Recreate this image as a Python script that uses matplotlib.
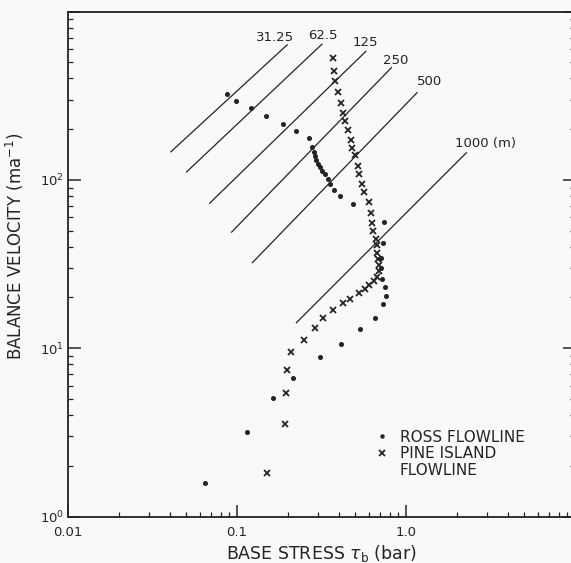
import matplotlib
matplotlib.use("Agg")
import matplotlib.pyplot as plt
from matplotlib.lines import Line2D
from matplotlib.ticker import LogLocator, FixedLocator, FixedFormatter, NullFormatter

# Ross flowline (dots): base stress (bar), balance velocity (m/a)
ross_tau = [0.0873, 0.0986, 0.1205, 0.148, 0.186, 0.2245, 0.268, 0.2767, 0.2845,
            0.2893, 0.2944, 0.3027, 0.311, 0.320, 0.332, 0.344, 0.3535, 0.3767,
            0.4055, 0.4875, 0.738, 0.731, 0.711, 0.716, 0.725, 0.748, 0.762,
            0.735, 0.656, 0.535, 0.412, 0.311, 0.2155, 0.164, 0.114, 0.0649]
ross_vel = [323, 295.6, 267.5, 240.6, 215.8, 195.3, 177.4, 157.5, 147.2,
            138.7, 131.3, 124.3, 118.8, 113.0, 108.0, 101.6, 94.2, 87.1,
            80.2, 71.6, 56.2, 42.4, 34.4, 30.0, 25.8, 23.2, 20.3,
            18.4, 15.1, 13.0, 10.6, 8.87, 6.68, 5.04, 3.19, 1.59]

# Pine Island flowline (crosses)
pine_tau = [0.3717, 0.375, 0.380, 0.395, 0.411, 0.4266, 0.4355, 0.4557, 0.4695,
            0.479, 0.5003, 0.5177, 0.5285, 0.549, 0.5643, 0.600, 0.618, 0.6266,
            0.6406, 0.6618, 0.6709, 0.676, 0.6855, 0.695, 0.695, 0.6737, 0.6424,
            0.6065, 0.5722, 0.5307, 0.4663, 0.4238, 0.3714, 0.324, 0.2884, 0.249,
            0.2101, 0.1984, 0.195, 0.193, 0.151]
pine_vel = [528, 445.6, 387, 330.5, 287.5, 250.8, 223.9, 197.1, 171.4,
            154.1, 140.3, 120.1, 108.9, 94.9, 84.7, 73.9, 63.3, 55.2,
            49.5, 44.7, 41.0, 36.6, 33.9, 31.2, 28.8, 26.5, 24.9,
            23.7, 22.6, 21.4, 19.5, 18.6, 16.8, 15.2, 13.1, 11.2,
            9.45, 7.42, 5.40, 3.53, 1.82]

# lines of constant ice thickness
thick_labels = ["31.25", "62.5", "125", "250", "500", "1000 (m)"]
thick_tau_lo = [0.0406, 0.0503, 0.0689, 0.0929, 0.1233, 0.2245]
thick_vel_lo = [146.7, 111.4, 72.6, 48.9, 32.2, 14.15]
thick_tau_hi = [0.198, 0.318, 0.578, 0.820, 1.162, 2.274]
thick_vel_hi = [633.4, 639.3, 579.4, 464.0, 329.3, 144.7]
label_offsets = [(-8.5, 5.2), (0.7, 6), (0, 6.5), (3.3, 5.2), (8.9, 7.8), (13.7, 6.4)]

x_ticks = [0.01, 0.1, 1.0, 10.0]
x_ticklabels = ["0.01", "0.1", "1.0", ""]
y_ticks = [1, 10, 100, 1000]
y_ticklabels = [r"$\mathregular{10^0}$", r"$\mathregular{10^1}$",
                r"$\mathregular{10^2}$", ""]

ink = "#232323"
bg = "#f9faf8"

fig = plt.figure(figsize=(5.71, 5.63), dpi=100, facecolor=bg)
ax = fig.add_axes([68 / 571, (563 - 516.5) / 563, 507 / 571, 505 / 563])
ax.set_facecolor(bg)
ax.set_xscale("log")
ax.set_yscale("log")
ax.set_xlim(0.01, 10)
ax.set_ylim(1, 1000)

for lab, t0, v0, t1, v1, off in zip(thick_labels, thick_tau_lo, thick_vel_lo,
                                    thick_tau_hi, thick_vel_hi, label_offsets):
    ax.plot([t0, t1], [v0, v1], color=ink, lw=0.9)
    ax.annotate(lab, (t1, v1), xytext=off, textcoords="offset points",
                ha="center", va="center", fontsize=9.5, color=ink)

ross, = ax.plot(ross_tau, ross_vel, "o", ls="none", ms=2.6, color=ink)
pine, = ax.plot(pine_tau, pine_vel, "x", ls="none", ms=4.5, mew=1.3, color=ink)

blank = Line2D([], [], ls="none", marker="none")
leg = ax.legend([ross, pine, blank], ["ROSS FLOWLINE", "PINE ISLAND", "FLOWLINE"],
                loc="upper left", bbox_to_anchor=(0.608, 0.172), frameon=False,
                borderpad=0, borderaxespad=0, handlelength=0.8,
                handletextpad=0.75, labelspacing=0.12, fontsize=11,
                markerscale=0.85)
for t in leg.get_texts():
    t.set_color(ink)

for side in ["left", "bottom", "top", "right"]:
    ax.spines[side].set_color(ink)
    ax.spines[side].set_linewidth(1.3)

ax.xaxis.set_major_locator(FixedLocator(x_ticks))
ax.xaxis.set_major_formatter(FixedFormatter(x_ticklabels))
ax.xaxis.set_minor_locator(LogLocator(base=10, subs=range(2, 10)))
ax.xaxis.set_minor_formatter(NullFormatter())
ax.yaxis.set_major_locator(FixedLocator(y_ticks))
ax.yaxis.set_major_formatter(FixedFormatter(y_ticklabels))
ax.yaxis.set_minor_locator(LogLocator(base=10, subs=range(2, 10)))
ax.yaxis.set_minor_formatter(NullFormatter())

ax.tick_params(which="both", direction="in", colors=ink, top=False,
               right=True, labelsize=9.5)
ax.tick_params(which="major", length=9, width=1.1)
ax.tick_params(which="minor", length=3.5, width=0.9)
ax.tick_params(axis="x", pad=7)
ax.tick_params(axis="y", pad=3)

ax.set_xlabel(r"BASE STRESS $\tau_\mathrm{b}$ (bar)", fontsize=12.5, color=ink,
              labelpad=3)
ax.set_ylabel(r"BALANCE VELOCITY (ma$^{-1}$)", fontsize=12, color=ink)
ax.yaxis.set_label_coords(-0.083, 0.535)

fig.savefig("out.png", dpi=100, facecolor=bg)
